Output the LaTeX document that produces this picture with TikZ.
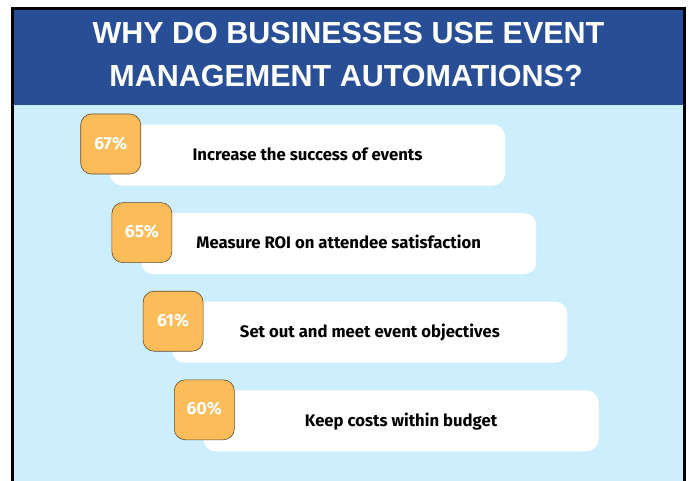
\documentclass[tikz,border=0pt]{standalone}
\usepackage{fontspec}
\setmainfont{Liberation Sans}
\newfontfamily\barfont{Fira Sans}
\newfontfamily\pctfont{Fira Sans}
\definecolor{bannerblue}{RGB}{40,78,150}
\definecolor{lightbg}{RGB}{205,238,253}
\definecolor{orangebox}{RGB}{253,188,90}
\definecolor{orangeedge}{RGB}{95,75,45}
\tikzset{
  x=1pt, y=-1pt,
  titletext/.style={text=white, font=\fontsize{30.5}{36}\selectfont\bfseries, inner sep=0pt},
  barbox/.style={fill=white, rounded corners=12pt, minimum width=395pt, minimum height=61pt,
    inner sep=0pt, text height=10.5pt, text depth=0pt,
    font=\barfont\fontsize{16.7}{19}\selectfont\bfseries},
  pctbox/.style={fill=orangebox, draw=orangeedge, line width=0.6pt, rounded corners=11pt,
    minimum width=60pt, minimum height=60pt, inner sep=0pt, text=white,
    text height=10pt, text depth=0pt,
    font=\pctfont\fontsize{17.5}{19}\selectfont\bfseries},
}
\begin{document}
\begin{tikzpicture}
\useasboundingbox (0,0) rectangle (689,480);
\fill[white] (0,0) rectangle (689,480);
% panel
\fill[lightbg] (12.5,8.5) rectangle (684.5,500);
\fill[bannerblue] (12.5,8.5) rectangle (684.5,104.5);
\draw[black, line width=2.5pt] (12.5,500) -- (12.5,8.5) -- (684.5,8.5) -- (684.5,500);
% title
\node[titletext] (t1) at (348.5,33) {WHY DO BUSINESSES USE EVENT};
\node[titletext] (t2) at (346,76) {MANAGEMENT AUTOMATIONS?};
% bars
\node[barbox] (b1) at (307.5,155) {Increase the success of events};
\node[barbox] (b2) at (338.7,243.6) {Measure ROI on attendee satisfaction};
\node[barbox] (b3) at (369.9,332.2) {Set out and meet event objectives};
\node[barbox] (b4) at (401.1,420.8) {Keep costs within budget};
% percentages
\node[pctbox] (p1) at (110.7,144) {67\%};
\node[pctbox] (p2) at (141.9,232.6) {65\%};
\node[pctbox] (p3) at (173.1,321.2) {61\%};
\node[pctbox] (p4) at (204.3,409.8) {60\%};
\end{tikzpicture}
\end{document}
